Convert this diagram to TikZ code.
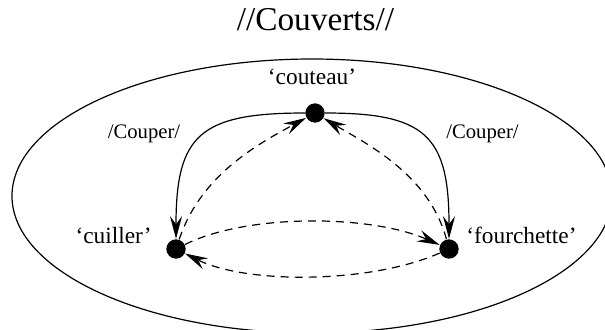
\documentclass[tikz,border=0pt]{standalone}
\usepackage{fontspec}
\setmainfont{Liberation Serif}
\usetikzlibrary{arrows.meta}

\tikzset{every picture/.style={line width=0.75pt}}
\tikzset{
  dot/.style={circle, fill={rgb, 255:red, 0; green, 0; blue, 0 }, inner sep=0pt, minimum size=14.5pt},
  lbl/.style={anchor=base, inner sep=0pt, font=\fontsize{17.5}{20}\selectfont},
  cutlbl/.style={anchor=base, inner sep=0pt, font=\fontsize{15.5}{18}\selectfont},
  solidarr/.style={line width=0.9pt, -{Stealth[length=17pt, width=9pt, inset=6pt]}},
  dasharr/.style={line width=0.9pt, dash pattern=on 6pt off 4.5pt, -{Stealth[length=17pt, width=9pt, inset=6pt]}}
}

\begin{document}
\begin{tikzpicture}[x=0.75pt,y=0.75pt,yscale=-1,xscale=1]
	\useasboundingbox (0,0) rectangle (605,329);
	\clip (0,0) rectangle (605,329);

	%Title
	\node [anchor=base, inner sep=0pt, font=\fontsize{25}{28}\selectfont] (title) at (315.5,30) {//Couverts//};

	%Shape: Ellipse
	\draw [line width=0.9pt] (312,196) ellipse (300 and 137);

	%Dots
	\node [dot] (couteau) at (315,113) {};
	\node [dot] (cuiller) at (176,249) {};
	\node [dot] (fourchette) at (449,249) {};

	%Labels
	\node [lbl] (lcouteau) at (312,84) {‘couteau’};
	\node [lbl] (lcuiller) at (113.5,243) {‘cuiller’};
	\node [lbl] (lfourchette) at (521.5,243) {‘fourchette’};
	\node [cutlbl] (lcouperA) at (144,138) {/Couper/};
	\node [cutlbl] (lcouperB) at (482.5,138) {/Couper/};

	%Solid curves
	\draw [solidarr] (couteau) .. controls +(-115,0) and +(0,-114) .. (cuiller);
	\draw [solidarr] (couteau) .. controls +(110,0) and +(0,-114) .. (fourchette);

	%Dashed curves
	\draw [dasharr] (cuiller) .. controls +(25,-75) and +(-55,30) .. (couteau);
	\draw [dasharr] (fourchette) .. controls +(-20,-75) and +(50,30) .. (couteau);
	\draw [dasharr] (cuiller) .. controls +(70,-35) and +(-80,-35) .. (fourchette);
	\draw [dasharr] (fourchette) .. controls +(-80,35) and +(70,35) .. (cuiller);

\end{tikzpicture}
\end{document}
